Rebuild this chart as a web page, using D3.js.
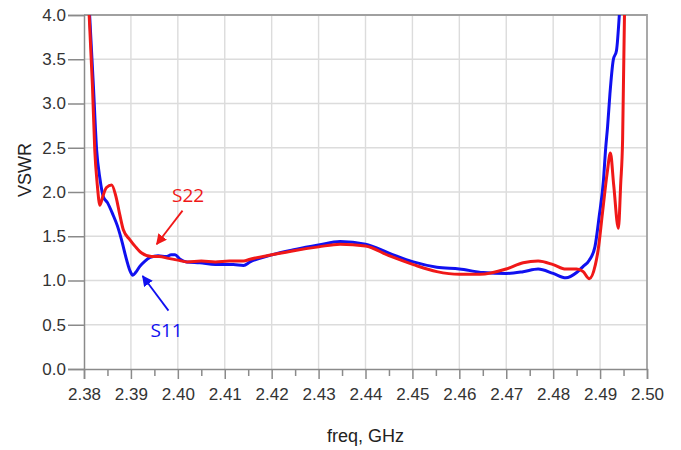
<!DOCTYPE html>
<meta charset="utf-8">
<head>
    <title>VSWR</title>
</head>
<style>
    body { margin: 0; background: #fff; }
    .tick text { font: 17px "Liberation Sans", Arial, sans-serif; fill: #333; }
    .axis path, .axis line { stroke: #8a8a8a; stroke-width: 1.5px; }
    .grid line { stroke: #dcdcdc; stroke-width: 1.4px; }
    .trace { fill: none; stroke-width: 3px; stroke-linejoin: round; }
</style>
<svg width="681" height="450"></svg>
<script src="https://d3js.org/d3.v7.min.js"></script>
<script>

    // values
    var xTicks = [2.38, 2.39, 2.40, 2.41, 2.42, 2.43, 2.44, 2.45, 2.46, 2.47, 2.48, 2.49, 2.50];
    var yTicks = [0.0, 0.5, 1.0, 1.5, 2.0, 2.5, 3.0, 3.5, 4.0];

    var s11Freq = [2.3812, 2.3820, 2.3827, 2.3834, 2.3841, 2.3850, 2.3862, 2.3871, 2.3880, 2.3891, 2.3898, 2.3904,
        2.3910, 2.3919, 2.3930, 2.3941, 2.3958, 2.3975, 2.3986, 2.3994, 2.4005, 2.4019, 2.4047, 2.4080, 2.4118, 2.4140,
        2.4154, 2.4200, 2.4250, 2.4300, 2.4346, 2.4400, 2.4450, 2.4502, 2.4552, 2.4600, 2.4651, 2.4700, 2.4736, 2.4768,
        2.4800, 2.4827, 2.4850, 2.4864, 2.4877, 2.4889, 2.4898, 2.4907, 2.4912, 2.4916, 2.4921, 2.4928, 2.4935, 2.4941];
    var s11Vswr = [4.00, 3.20, 2.47, 2.15, 1.95, 1.88, 1.74, 1.62, 1.46, 1.23, 1.11, 1.06,
        1.09, 1.16, 1.22, 1.26, 1.28, 1.27, 1.29, 1.29, 1.24, 1.21, 1.20, 1.18, 1.18, 1.17,
        1.21, 1.29, 1.35, 1.40, 1.44, 1.41, 1.31, 1.21, 1.15, 1.13, 1.09, 1.08, 1.10, 1.13,
        1.08, 1.03, 1.09, 1.16, 1.23, 1.38, 1.72, 2.12, 2.50, 2.74, 3.11, 3.49, 3.60, 4.00];

    var s22Freq = [2.3811, 2.3818, 2.3823, 2.3828, 2.3834, 2.3840, 2.3848, 2.3859, 2.3868, 2.3876, 2.3884, 2.3898,
        2.3910, 2.3923, 2.3944, 2.3960, 2.3980, 2.4000, 2.4020, 2.4050, 2.4080, 2.4110, 2.4140, 2.4154, 2.4200, 2.4250,
        2.4300, 2.4346, 2.4400, 2.4450, 2.4502, 2.4552, 2.4600, 2.4644, 2.4700, 2.4736, 2.4768, 2.4800, 2.4827, 2.4850,
        2.4864, 2.4877, 2.4890, 2.4896, 2.4905, 2.4915, 2.4922, 2.4929, 2.4939, 2.4944, 2.4948, 2.4952];
    var s22Vswr = [4.00, 3.20, 2.47, 2.10, 1.85, 1.95, 2.05, 2.08, 1.95, 1.75, 1.57, 1.46,
        1.38, 1.31, 1.27, 1.27, 1.25, 1.23, 1.21, 1.22, 1.21, 1.22, 1.22, 1.24, 1.29, 1.34,
        1.38, 1.41, 1.39, 1.28, 1.18, 1.10, 1.07, 1.07, 1.13, 1.20, 1.22, 1.18, 1.13, 1.13,
        1.10, 1.02, 1.18, 1.35, 1.76, 2.21, 2.44, 2.08, 1.59, 2.10, 2.59, 4.00];

    var svg = d3.select("svg"),
        margin = {top: 15, left: 84},
        width = 563,
        height = 354,
        g = svg.append("g").attr("transform", "translate(" + margin.left + "," + margin.top + ")");

    var x = d3.scaleLinear().domain([2.38, 2.50]).range([0, width]);
    var y = d3.scaleLinear().domain([0, 4]).range([height, 0]);

    // grid
    g.append("g").attr("class", "grid")
        .selectAll("line").data(xTicks.slice(1, -1)).enter().append("line")
        .attr("x1", function(d) { return x(d); }).attr("x2", function(d) { return x(d); })
        .attr("y1", 0).attr("y2", height);
    g.append("g").attr("class", "grid")
        .selectAll("line").data(yTicks.slice(1, -1)).enter().append("line")
        .attr("y1", function(d) { return y(d); }).attr("y2", function(d) { return y(d); })
        .attr("x1", 0).attr("x2", width);

    // frame top / right
    g.append("path")
        .attr("d", "M0,0H" + width + "V" + height)
        .attr("fill", "none").attr("stroke", "#a0a0a0").attr("stroke-width", 1.8);

    // minor x ticks
    var minor = d3.range(0, 12).map(function(i) { return 2.385 + i * 0.01; });
    g.append("g").attr("class", "axis")
        .attr("transform", "translate(0," + height + ")")
        .call(d3.axisBottom(x).tickValues(minor).tickSize(7).tickFormat(""))
        .select(".domain").remove();

    g.append("g").attr("class", "axis")
        .attr("transform", "translate(0," + height + ")")
        .call(d3.axisBottom(x).tickValues(xTicks).tickSize(10).tickPadding(9).tickFormat(d3.format(".2f")));

    g.append("g").attr("class", "axis")
        .call(d3.axisLeft(y).tickValues(yTicks).tickSize(16).tickPadding(2).tickFormat(d3.format(".1f")));

    // traces
    var line = d3.line().curve(d3.curveMonotoneX);
    g.append("clipPath").attr("id", "plot").append("rect")
        .attr("width", width).attr("height", height + 2).attr("y", -1);

    g.append("path").attr("class", "trace").attr("clip-path", "url(#plot)")
        .attr("stroke", "#1010f0")
        .attr("d", line(s11Freq.map(function(f, i) { return [x(f), y(s11Vswr[i])]; })));
    g.append("path").attr("class", "trace").attr("clip-path", "url(#plot)")
        .attr("stroke", "#f01818")
        .attr("d", line(s22Freq.map(function(f, i) { return [x(f), y(s22Vswr[i])]; })));

    // labels
    svg.append("text")
        .attr("transform", "translate(31,170) rotate(-90)")
        .attr("text-anchor", "middle")
        .style("font", "18px 'Liberation Sans', Arial, sans-serif").style("fill", "#222")
        .text("VSWR");
    svg.append("text")
        .attr("x", margin.left + width / 2).attr("y", 442)
        .attr("text-anchor", "middle")
        .style("font", "18px 'Liberation Sans', Arial, sans-serif").style("fill", "#222")
        .text("freq, GHz");

    // annotations with arrows
    var defs = svg.append("defs");
    [["red", "#f01818"], ["blue", "#1010f0"]].forEach(function(c) {
        defs.append("marker").attr("id", "arr-" + c[0])
            .attr("viewBox", "0 0 10 10").attr("refX", 9).attr("refY", 5)
            .attr("markerWidth", 6).attr("markerHeight", 6).attr("orient", "auto")
            .append("path").attr("d", "M0,0L10,5L0,10z").attr("fill", c[1]);
    });

    var notes = [
        {name: "S22", color: "#f01818", m: "red", tx: 2.4022, ty: 1.89, from: [2.4010, 1.79], to: [2.3955, 1.41]},
        {name: "S11", color: "#1010f0", m: "blue", tx: 2.3976, ty: 0.365, from: [2.3980, 0.66], to: [2.3925, 1.05]}
    ];
    notes.forEach(function(n) {
        g.append("line")
            .attr("x1", x(n.from[0])).attr("y1", y(n.from[1]))
            .attr("x2", x(n.to[0])).attr("y2", y(n.to[1]))
            .attr("stroke", n.color).attr("stroke-width", 1.8)
            .attr("marker-end", "url(#arr-" + n.m + ")");
        g.append("text")
            .attr("x", x(n.tx)).attr("y", y(n.ty))
            .attr("text-anchor", "middle")
            .style("font", "19px 'Open Sans', sans-serif").style("fill", n.color)
            .text(n.name);
    });

</script>
